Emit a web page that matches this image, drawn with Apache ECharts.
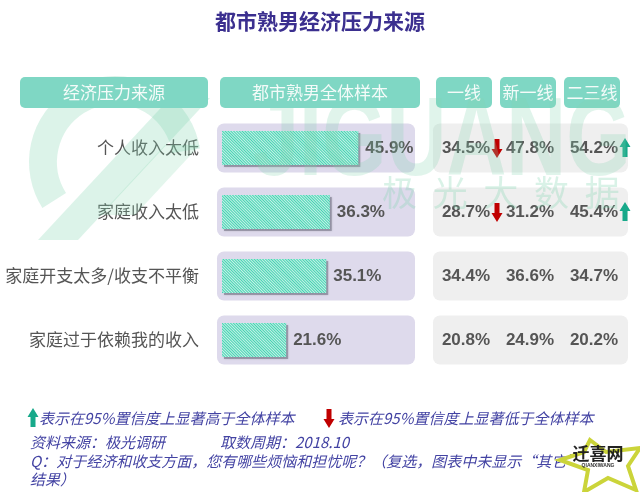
<!DOCTYPE html>
<html>
<head>
<meta charset="utf-8">
<script src="https://cdn.jsdelivr.net/npm/echarts@6/dist/echarts.min.js"></script>
<style>html,body{margin:0;padding:0;background:#fff;}#main{width:640px;height:492px;}</style>
</head>
<body>
<div id="main"></div>
<script>
// ---- data ----
const categories = ['个人收入太低', '家庭收入太低', '家庭开支太多/收支不平衡', '家庭过于依赖我的收入'];
const totalValues = [45.9, 36.3, 35.1, 21.6];
const tierNames = ['一线', '新一线', '二三线'];
const tier1Values = [34.5, 28.7, 34.4, 20.8];
const tierNew1Values = [47.8, 31.2, 36.6, 24.9];
const tier23Values = [54.2, 45.4, 34.7, 20.2];
const tier1Sig = ['down', 'down', '', ''];
const tierNew1Sig = ['', '', '', ''];
const tier23Sig = ['up', 'up', '', ''];

const tierValues = [tier1Values, tierNew1Values, tier23Values];
const tierSig = [tier1Sig, tierNew1Sig, tier23Sig];
const tierData = [];
tierValues.forEach((vals, c) => vals.forEach((v, r) => tierData.push([c, r, v, tierSig[c][r]])));

const NUM_FONT = '"Liberation Sans", Arial, "Noto Sans CJK SC", sans-serif';
const CJK_FONT = '"Noto Sans CJK SC", "Liberation Sans", sans-serif';
const TEAL = '#7fd7c4';
const FOOT = '#4343a3';

function arrowPts(cx, cy, dir) {
  const s = dir === 'down' ? 1 : -1;
  return [[cx - 2.5, cy - 9 * s], [cx + 2.5, cy - 9 * s], [cx + 2.5, cy + 1 * s], [cx + 5.5, cy + 1 * s],
          [cx, cy + 10 * s], [cx - 5.5, cy + 1 * s], [cx - 2.5, cy + 1 * s]];
}

const chart = echarts.init(document.getElementById('main'), null, {renderer: 'canvas'});
const option = {
  backgroundColor: '#ffffff',
  animation: false,
  title: {
    text: '都市熟男经济压力来源', left: 'center', top: 6,
    textStyle: {fontSize: 21, fontWeight: 'bold', color: '#3b2f8f', fontFamily: CJK_FONT}
  },
  grid: [
    {left: 222, top: 116, width: 193, height: 256},
    {left: 432, top: 116, width: 192, height: 256}
  ],
  xAxis: [
    {gridIndex: 0, type: 'value', min: 0, max: 65, show: false},
    {gridIndex: 1, type: 'category', data: tierNames, position: 'top',
     axisLine: {show: false}, axisTick: {show: false}, splitLine: {show: false},
     axisLabel: {interval: 0, margin: 8, color: '#f4fbf9', fontSize: 17, fontFamily: CJK_FONT,
       backgroundColor: TEAL, width: 56, height: 31, lineHeight: 31, align: 'center',
       borderRadius: 5, padding: 0, hideOverlap: false}}
  ],
  yAxis: [
    {gridIndex: 0, type: 'category', data: categories, inverse: true,
     axisLine: {show: false}, axisTick: {show: false},
     axisLabel: {margin: 23, color: '#555', fontSize: 17, fontFamily: CJK_FONT}},
    {gridIndex: 1, type: 'category', data: categories, inverse: true, show: false}
  ],
  series: [
    {
      type: 'custom', xAxisIndex: 0, yAxisIndex: 0, z: 1, silent: true,
      data: categories.map((c, i) => [0, i]),
      renderItem: function (params, api) {
        const row = api.value(1);
        const p0 = api.coord([0, row]);
        const p1 = api.coord([65, row]);
        return {type: 'rect', shape: {x: p0[0] - 5, y: p0[1] - 24.5, width: p1[0] - p0[0] + 5, height: 49, r: 7},
                style: {fill: '#dedaec'}};
      }
    },
    {
      type: 'custom', xAxisIndex: 1, yAxisIndex: 1, z: 1, silent: true,
      data: categories.map((c, i) => [0, i]),
      renderItem: function (params, api) {
        const row = api.value(1);
        const p0 = api.coord([0, row]);
        const p2 = api.coord([2, row]);
        return {type: 'rect', shape: {x: p0[0] - 31, y: p0[1] - 24.5, width: p2[0] - p0[0] + 67, height: 49, r: 7},
                style: {fill: '#efefef'}};
      }
    },
    {
      // bar drop shadow
      type: 'custom', xAxisIndex: 0, yAxisIndex: 0, z: 2, silent: true,
      data: totalValues.map((v, i) => [v, i]),
      renderItem: function (params, api) {
        const p0 = api.coord([0, api.value(1)]);
        const p1 = api.coord([api.value(0), api.value(1)]);
        return {type: 'rect', shape: {x: p0[0] + 2, y: p0[1] - 17 + 2, width: p1[0] - p0[0], height: 34},
                style: {fill: 'rgba(90,90,110,0.45)', shadowBlur: 2, shadowColor: 'rgba(0,0,0,0.3)'}};
      }
    },
    {
      type: 'bar', xAxisIndex: 0, yAxisIndex: 0, z: 3,
      data: totalValues, barWidth: 34,
      itemStyle: {
        color: '#45d3b2',
        decal: {symbol: 'rect', symbolSize: 1, dashArrayX: [1, 0], dashArrayY: [1, 1],
                rotation: Math.PI / 4, color: 'rgba(255,255,255,0.7)'}
      },
      label: {show: true, position: 'right', distance: 7, formatter: p => p.value.toFixed(1) + '%',
               color: '#555', fontSize: 17, fontWeight: 'bold', fontFamily: NUM_FONT}
    },
    {
      type: 'custom', xAxisIndex: 1, yAxisIndex: 1, z: 3,
      data: tierData,
      renderItem: function (params, api) {
        const col = api.value(0), row = api.value(1), v = api.value(2);
        const flag = tierData[params.dataIndex][3];
        const p = api.coord([col, row]);
        const children = [{
          type: 'text', x: p[0] + 2, y: p[1],
          style: {text: v.toFixed(1) + '%', fill: '#555', fontSize: 17, fontWeight: 'bold',
                  fontFamily: NUM_FONT, align: 'center', verticalAlign: 'middle'}
        }];
        if (flag) {
          children.push({type: 'polygon', shape: {points: arrowPts(p[0] + 33, p[1], flag)},
                         style: {fill: flag === 'down' ? '#c00000' : '#17a98a'}});
        }
        return {type: 'group', children: children};
      }
    }
  ],
  graphic: [
    // watermark logo
    {type: 'arc', z: 100, silent: true, shape: {cx: 115, cy: 162, r: 72, startAngle: Math.PI * 0.82, endAngle: Math.PI * 1.95},
     style: {stroke: 'rgba(130,212,175,0.28)', lineWidth: 28, fill: null}},
    {type: 'polygon', z: 100, silent: true, shape: {points: [[38, 240], [78, 240], [210, 98], [170, 98]]},
     style: {fill: 'rgba(130,212,175,0.28)'}},
    {type: 'polygon', z: 100, silent: true, shape: {points: [[100, 215], [135, 215], [200, 145], [165, 145]]},
     style: {fill: 'rgba(130,212,175,0.22)'}},
    {type: 'text', z: 100, silent: true, x: 253, y: 88, scaleX: 0.74,
     style: {text: 'JIGUANG', fontSize: 112, fontWeight: 'bold', fontFamily: NUM_FONT, fill: 'rgba(130,212,175,0.25)'}},
    {type: 'text', z: 100, silent: true, x: 382, y: 175,
     style: {text: '极  光  大  数  据', fontSize: 35, fontFamily: CJK_FONT, fill: 'rgba(130,212,175,0.30)'}},
    // left header boxes
    {type: 'rect', z: 110, shape: {x: 20, y: 77, width: 188, height: 31, r: 5}, style: {fill: TEAL}},
    {type: 'text', z: 111, x: 114, y: 92.5, style: {text: '经济压力来源', fill: '#f4fbf9', fontSize: 17, fontFamily: CJK_FONT, align: 'center', verticalAlign: 'middle'}},
    {type: 'rect', z: 110, shape: {x: 220, y: 77, width: 200, height: 31, r: 5}, style: {fill: TEAL}},
    {type: 'text', z: 111, x: 320, y: 92.5, style: {text: '都市熟男全体样本', fill: '#f4fbf9', fontSize: 17, fontFamily: CJK_FONT, align: 'center', verticalAlign: 'middle'}},
    // footer
    {type: 'polygon', z: 110, shape: {points: arrowPts(33, 418, 'up')}, style: {fill: '#17a98a'}},
    {type: 'text', z: 110, x: 39, y: 418, style: {text: '表示在95%置信度上显著高于全体样本', fill: FOOT, fontSize: 15, fontStyle: 'italic', fontFamily: CJK_FONT, verticalAlign: 'middle'}},
    {type: 'polygon', z: 110, shape: {points: arrowPts(329, 418, 'down')}, style: {fill: '#c00000'}},
    {type: 'text', z: 110, x: 338, y: 418, style: {text: '表示在95%置信度上显著低于全体样本', fill: FOOT, fontSize: 15, fontStyle: 'italic', fontFamily: CJK_FONT, verticalAlign: 'middle'}},
    {type: 'text', z: 110, x: 30, y: 442, style: {text: '资料来源：极光调研', fill: FOOT, fontSize: 15, fontStyle: 'italic', fontFamily: CJK_FONT, verticalAlign: 'middle'}},
    {type: 'text', z: 110, x: 220, y: 442, style: {text: '取数周期：2018.10', fill: FOOT, fontSize: 15, fontStyle: 'italic', fontFamily: CJK_FONT, verticalAlign: 'middle'}},
    {type: 'text', z: 110, x: 30, y: 461, style: {text: 'Q：对于经济和收支方面，您有哪些烦恼和担忧呢？（复选，图表中未显示“其它”', fill: FOOT, fontSize: 15, fontStyle: 'italic', fontFamily: CJK_FONT, verticalAlign: 'middle'}},
    {type: 'text', z: 110, x: 30, y: 479, style: {text: '结果）', fill: FOOT, fontSize: 15, fontStyle: 'italic', fontFamily: CJK_FONT, verticalAlign: 'middle'}},
    // site badge
    {type: 'polygon', z: 120, shape: {points: [[590, 440], [606, 452], [640, 448], [628, 466], [636, 490], [608, 478], [584, 492], [588, 470], [560, 460], [584, 452]]},
     style: {fill: '#ffffff', stroke: '#cbd43a', lineWidth: 4}},
    {type: 'text', z: 121, x: 598, y: 454, style: {text: '迁喜网', fill: '#222', fontSize: 17, fontWeight: 'bold', fontFamily: CJK_FONT, align: 'center', verticalAlign: 'middle'}},
    {type: 'text', z: 121, x: 598, y: 466, style: {text: 'QIANXIWANG', fill: '#333', fontSize: 5, fontWeight: 'bold', fontFamily: NUM_FONT, align: 'center', verticalAlign: 'middle'}}
  ]
};
chart.setOption(option);
</script>
</body>
</html>
